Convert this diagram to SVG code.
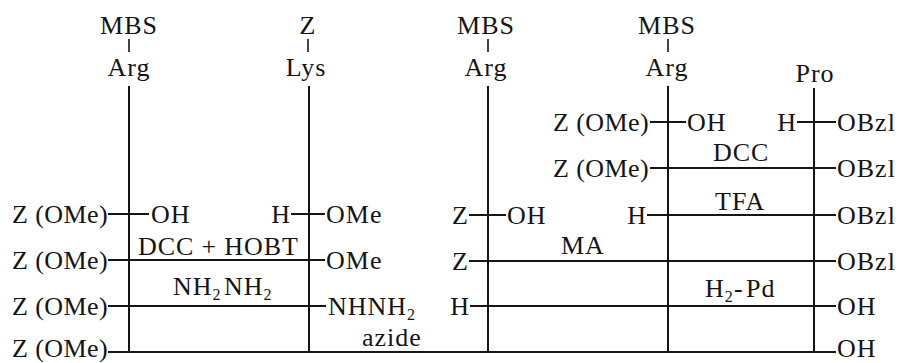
<svg xmlns="http://www.w3.org/2000/svg" width="900" height="363" viewBox="0 0 900 363">
<style>
.t{font-family:"Liberation Serif","Times New Roman",serif;font-size:26px;fill:#151515;letter-spacing:1px}
.z{letter-spacing:0.4px}
.m{text-anchor:middle}
.e{text-anchor:end}
.s{font-size:16px}
.ln{stroke:#151515;stroke-width:2;fill:none}
.tk{stroke:#151515;stroke-width:1.6}
</style>
<rect width="900" height="363" fill="#ffffff"/>
<g id="col-arg1">
<text class="t m" x="129" y="34">MBS</text>
<line class="tk" x1="129" y1="39" x2="129" y2="52"/>
<text class="t m" x="129" y="76">Arg</text>
<line class="ln" x1="129" y1="86" x2="129" y2="352"/>
</g>
<g id="col-lys">
<text class="t m" x="308" y="34">Z</text>
<line class="tk" x1="308" y1="39" x2="308" y2="52"/>
<text class="t m" x="306" y="76">Lys</text>
<line class="ln" x1="309" y1="86" x2="309" y2="352"/>
</g>
<g id="col-arg2">
<text class="t m" x="486" y="34">MBS</text>
<line class="tk" x1="488" y1="39" x2="488" y2="52"/>
<text class="t m" x="486" y="76">Arg</text>
<line class="ln" x1="488" y1="86" x2="488" y2="352"/>
</g>
<g id="col-arg3">
<text class="t m" x="667" y="34">MBS</text>
<line class="tk" x1="668" y1="39" x2="668" y2="52"/>
<text class="t m" x="667" y="76">Arg</text>
<line class="ln" x1="668" y1="86" x2="668" y2="352"/>
</g>
<g id="col-pro">
<text class="t m" x="815" y="82">Pro</text>
<line class="ln" x1="814" y1="88" x2="814" y2="352"/>
</g>
<g id="connectors">
<line class="ln" x1="108" y1="214" x2="149" y2="214"/>
<line class="ln" x1="291" y1="214" x2="325" y2="214"/>
<line class="ln" x1="108" y1="260" x2="325" y2="260"/>
<line class="ln" x1="108" y1="306" x2="326" y2="306"/>
<line class="ln" x1="108" y1="352" x2="836" y2="352"/>
<line class="ln" x1="650" y1="122" x2="686" y2="122"/>
<line class="ln" x1="797" y1="122" x2="836" y2="122"/>
<line class="ln" x1="650" y1="168" x2="836" y2="168"/>
<line class="ln" x1="469" y1="215" x2="506" y2="215"/>
<line class="ln" x1="647" y1="215" x2="836" y2="215"/>
<line class="ln" x1="469" y1="261" x2="836" y2="261"/>
<line class="ln" x1="470" y1="306" x2="836" y2="306"/>
</g>
<g id="left-labels">
<text class="t z e" x="108" y="223">Z (OMe)</text>
<text class="t" x="151" y="223">OH</text>
<text class="t e" x="291" y="223">H</text>
<text class="t" x="326" y="223">OMe</text>
<text class="t" x="138" y="255">DCC<tspan dx="7">+</tspan><tspan dx="7">HOBT</tspan></text>
<text class="t z e" x="108" y="269">Z (OMe)</text>
<text class="t" x="326" y="269">OMe</text>
<text class="t" x="173" y="295">NH<tspan class="s" dy="5">2</tspan><tspan dy="-5" x="224">NH</tspan><tspan class="s" dy="5">2</tspan></text>
<text class="t z e" x="108" y="315">Z (OMe)</text>
<text class="t" x="328" y="315">NHNH<tspan class="s" dy="5">2</tspan></text>
<text class="t z e" x="108" y="357">Z (OMe)</text>
<text class="t" x="362" y="346">azide</text>
</g>
<g id="right-labels">
<text class="t z e" x="649" y="131">Z (OMe)</text>
<text class="t" x="687" y="131">OH</text>
<text class="t e" x="797" y="131">H</text>
<text class="t" x="837" y="131">OBzl</text>
<text class="t" x="713" y="161">DCC</text>
<text class="t z e" x="649" y="177">Z (OMe)</text>
<text class="t" x="837" y="177">OBzl</text>
<text class="t e" x="469" y="224">Z</text>
<text class="t" x="507" y="224">OH</text>
<text class="t" x="715" y="210">TFA</text>
<text class="t e" x="647" y="224">H</text>
<text class="t" x="837" y="224">OBzl</text>
<text class="t" x="561" y="254">MA</text>
<text class="t e" x="469" y="270">Z</text>
<text class="t" x="837" y="270">OBzl</text>
<text class="t" x="705" y="297">H<tspan class="s" dy="5">2</tspan><tspan dy="-5" x="734">-</tspan><tspan x="746">Pd</tspan></text>
<text class="t e" x="470" y="315">H</text>
<text class="t" x="837" y="315">OH</text>
<text class="t" x="837" y="357">OH</text>
</g>
</svg>
